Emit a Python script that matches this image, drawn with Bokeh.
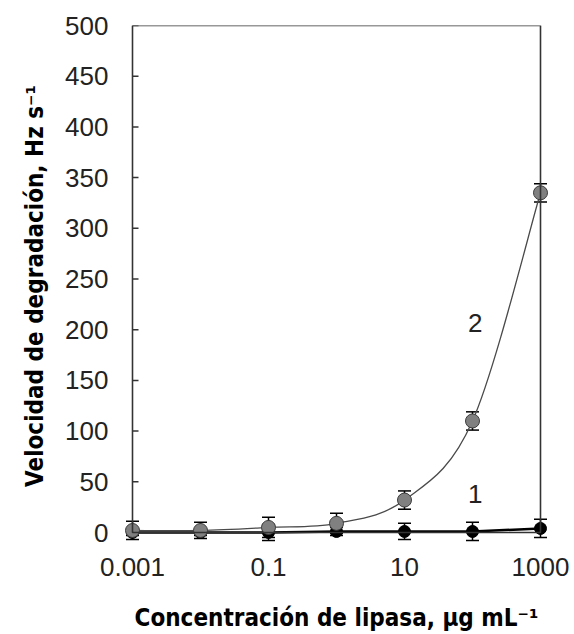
import numpy as np
from bokeh.plotting import figure
from bokeh.models import (ColumnDataSource, Range1d, FixedTicker, CustomJSTickFormatter,
                          Whisker, TeeHead, BoxAnnotation)
from bokeh.core.properties import value
from bokeh.embed import file_html
from bokeh.resources import INLINE

# Lipase concentration (µg/mL) and degradation rate (Hz/s) for the two substrates
concentration = [0.001, 0.01, 0.1, 1, 10, 100, 1000]
rate_1 = [0, 0, 0, 1, 1, 1, 4]
err_1 = [3, 3, 8, 4, 8, 9, 9]
rate_2 = [2, 2, 5, 9, 32, 110, 335]
err_2 = [9, 8, 10, 10, 9, 9, 9]

x_ticks = [0.001, 0.1, 10, 1000]
y_ticks = [0, 50, 100, 150, 200, 250, 300, 350, 400, 450, 500]

curve_labels = ["1", "2"]
curve_label_x = [110, 110]
curve_label_y = [38, 207]

X_MIN, X_MAX = 0.001, 1000
Y_MIN, Y_MAX = 0, 500

# frame geometry (pixels): the axes box sits 15 px inside the frame horizontally
# and 14 px above the frame bottom, so markers on the edges are not clipped
LEFT, RIGHT, TOP, BOTTOM = 117, 19, 25, 88
W, H = 574, 634
pad_x_px, pad_y_px = 15, 14
frame_w = W - LEFT - RIGHT
frame_h = H - TOP - BOTTOM
decades = np.log10(X_MAX) - np.log10(X_MIN)
px_per_dec = (frame_w - 2 * pad_x_px) / decades
x_lo = 10 ** (np.log10(X_MIN) - pad_x_px / px_per_dec)
x_hi = 10 ** (np.log10(X_MAX) + pad_x_px / px_per_dec)
y_lo = Y_MIN - (Y_MAX - Y_MIN) * pad_y_px / (frame_h - pad_y_px)

p = figure(width=W, height=H, x_axis_type="log", output_backend="svg",
           toolbar_location=None, x_range=Range1d(x_lo, x_hi),
           y_range=Range1d(y_lo, Y_MAX),
           min_border_left=LEFT, min_border_right=RIGHT,
           min_border_top=TOP, min_border_bottom=BOTTOM)
p.outline_line_color = None
p.grid.visible = False
p.background_fill_color = "white"
p.border_fill_color = "white"

TICK_FONT = "Liberation Sans"
TITLE_FONT = "DejaVu Sans Condensed"

# y axis: labels only; the box edge and the tick marks are drawn below
ya = p.yaxis[0]
ya.ticker = FixedTicker(ticks=y_ticks)
ya.axis_line_color = None
ya.major_tick_in = 0
ya.major_tick_out = 0
ya.minor_tick_in = 0
ya.minor_tick_out = 0
ya.major_label_standoff = 9
ya.major_label_text_font = TICK_FONT
ya.major_label_text_font_size = "26px"
ya.major_label_text_color = "#222222"
ya.axis_label = "Velocidad de degradación, Hz s\u207b\u00b9"
ya.axis_label_text_font = TITLE_FONT
ya.axis_label_text_font_style = "bold"
ya.axis_label_text_font_size = "24px"
ya.axis_label_text_color = "black"
ya.axis_label_standoff = 13

# x axis: labels only, the bottom edge of the box is the y = 0 line
xa = p.xaxis[0]
xa.ticker = FixedTicker(ticks=x_ticks)
xa.formatter = CustomJSTickFormatter(code="return tick.toString()")
xa.axis_line_color = None
xa.major_tick_in = 0
xa.major_tick_out = 0
xa.minor_tick_in = 0
xa.minor_tick_out = 0
xa.major_label_standoff = 11
xa.major_label_text_font = TICK_FONT
xa.major_label_text_font_size = "26px"
xa.major_label_text_color = "#222222"
xa.axis_label = "Concentración de lipasa, μg mL\u207b\u00b9"
xa.axis_label_text_font = TITLE_FONT
xa.axis_label_text_font_style = "bold"
xa.axis_label_text_font_size = "24px"
xa.axis_label_text_color = "black"
xa.axis_label_standoff = 25

# box around the axes area
p.add_layout(BoxAnnotation(left=X_MIN, right=X_MAX, bottom=Y_MIN, top=Y_MAX,
                           fill_alpha=0, line_color="#333333", line_alpha=1,
                           line_width=1.6))

# inward tick marks on the left edge of the box
p.ray(x=[X_MIN] * len(y_ticks), y=y_ticks, length=6, length_units="screen",
      angle=0, line_color="#333333", line_width=1.5)

src1 = ColumnDataSource(dict(x=concentration, y=rate_1,
                             lower=[v - e for v, e in zip(rate_1, err_1)],
                             upper=[v + e for v, e in zip(rate_1, err_1)]))
src2 = ColumnDataSource(dict(x=concentration, y=rate_2,
                             lower=[v - e for v, e in zip(rate_2, err_2)],
                             upper=[v + e for v, e in zip(rate_2, err_2)]))

# series 1: straight black line
p.line("x", "y", source=src1, line_color="black", line_width=2.5)

# series 2: smoothed line through the points (Catmull-Rom as cubic Bezier, in log-x space)
lx = np.log10(np.array(concentration, dtype=float))
ly = np.array(rate_2, dtype=float)
n = len(lx)
prev_i = np.clip(np.arange(n) - 1, 0, n - 1)
next_i = np.clip(np.arange(n) + 1, 0, n - 1)
dx = (lx[next_i] - lx[prev_i]) / 6.0
dy = (ly[next_i] - ly[prev_i]) / 6.0
p.bezier(x0=10 ** lx[:-1], y0=ly[:-1], x1=10 ** lx[1:], y1=ly[1:],
         cx0=10 ** (lx[:-1] + dx[:-1]), cy0=ly[:-1] + dy[:-1],
         cx1=10 ** (lx[1:] - dx[1:]), cy1=ly[1:] - dy[1:],
         line_color="#4a4a4a", line_width=1.3)

for src in (src1, src2):
    p.add_layout(Whisker(base="x", lower="lower", upper="upper", source=src,
                         line_color="black", line_width=1.5,
                         upper_head=TeeHead(size=13, line_color="black", line_width=1.5),
                         lower_head=TeeHead(size=13, line_color="black", line_width=1.5)))

p.scatter("x", "y", source=src1, size=12, fill_color="black", line_color="black")
p.scatter("x", "y", source=src2, size=14, fill_color="#808080", line_color="#3c3c3c",
          line_width=1)

p.text(x=curve_label_x, y=curve_label_y, text=curve_labels,
       text_font=value(TICK_FONT), text_font_size="26px", text_color="#222222",
       text_align="center", text_baseline="middle")

open("out.html", "w").write(file_html(p, INLINE))
